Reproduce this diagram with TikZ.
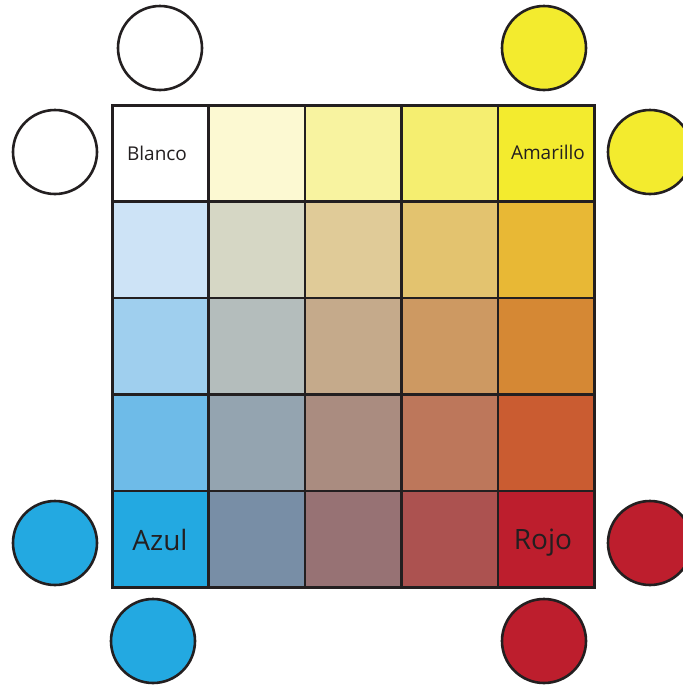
\documentclass[tikz,border=0pt]{standalone}
\usepackage{fontspec}
\setmainfont{Open Sans}
\definecolor{c11}{HTML}{FFFFFF}
\definecolor{c12}{HTML}{FCF9D2}
\definecolor{c13}{HTML}{F8F3A0}
\definecolor{c14}{HTML}{F5EE70}
\definecolor{c15}{HTML}{F3EB2E}
\definecolor{c21}{HTML}{CDE3F6}
\definecolor{c22}{HTML}{D6D7C5}
\definecolor{c23}{HTML}{E0CB98}
\definecolor{c24}{HTML}{E3C36F}
\definecolor{c25}{HTML}{E8B835}
\definecolor{c31}{HTML}{9FCFEE}
\definecolor{c32}{HTML}{B4BDBC}
\definecolor{c33}{HTML}{C5AA8B}
\definecolor{c34}{HTML}{CD9962}
\definecolor{c35}{HTML}{D58834}
\definecolor{c41}{HTML}{6EBBE8}
\definecolor{c42}{HTML}{94A4B0}
\definecolor{c43}{HTML}{AA8C80}
\definecolor{c44}{HTML}{BD775B}
\definecolor{c45}{HTML}{CA5C31}
\definecolor{c51}{HTML}{23A9E1}
\definecolor{c52}{HTML}{788EA6}
\definecolor{c53}{HTML}{977274}
\definecolor{c54}{HTML}{AC5250}
\definecolor{c55}{HTML}{BD1E2D}
\definecolor{ink}{HTML}{231F20}
\begin{document}
\begin{tikzpicture}[x=1pt,y=-1pt,
  cell/.style={draw=ink,line width=2.6pt,minimum size=96.4pt,inner sep=0pt,anchor=north west},
  dot/.style={circle,draw=ink,line width=2.6pt,minimum size=84pt,inner sep=0pt},
  small/.style={text=ink,font=\fontsize{19}{22}\selectfont},
  big/.style={text=ink,font=\fontsize{28}{32}\selectfont}]
\useasboundingbox (0,0) rectangle (683,686);
\foreach \r in {1,...,5}{
  \foreach \c in {1,...,5}{
    \node[cell,fill=c\r\c] (g\r\c) at ({111+96.4*(\c-1)},{104+96.4*(\r-1)}) {};
  }
}
\node[small] (tb) at (157,153) {Blanco};
\node[small] (ta) at (548,152) {Amarillo};
\node[big] (tz) at (160,540) {Azul};
\node[big] (tr) at (543,543) {Rojo};
\node[dot,fill=white] (w1) at (160,48) {};
\node[dot,fill=white] (w2) at (55,152) {};
\node[dot,fill=c15] (y1) at (544,48) {};
\node[dot,fill=c15] (y2) at (650,152) {};
\node[dot,fill=c51] (b1) at (55,543) {};
\node[dot,fill=c51] (b2) at (153,641) {};
\node[dot,fill=c55] (r1) at (544,641) {};
\node[dot,fill=c55] (r2) at (650,543) {};
\end{tikzpicture}
\end{document}
